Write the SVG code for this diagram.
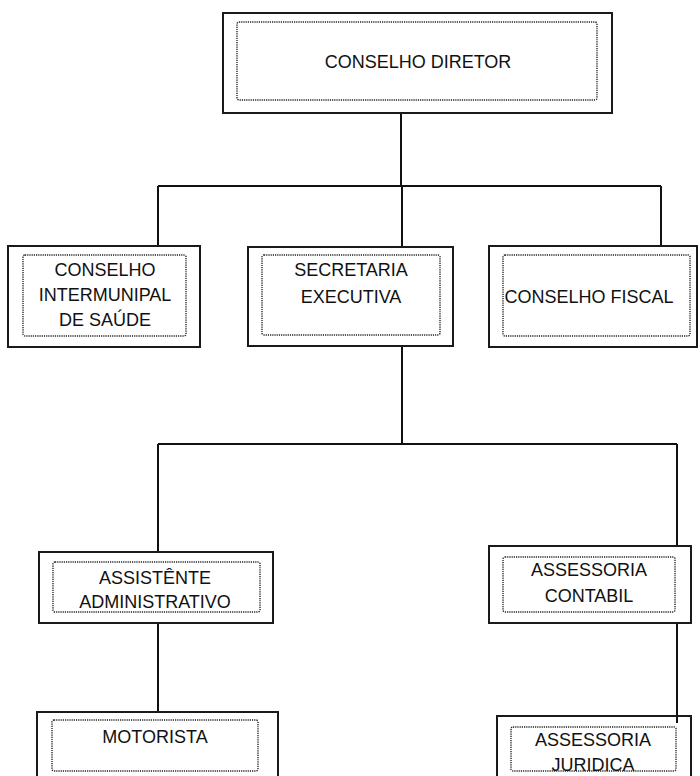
<svg xmlns="http://www.w3.org/2000/svg" width="700" height="776" viewBox="0 0 700 776">
<style>
.outer{fill:#fff;stroke:#1a1a1a;stroke-width:2}
.inner{fill:none;stroke:#222;stroke-width:1.4;stroke-dasharray:1.2 1}
.t{font-family:"Liberation Sans",Arial,sans-serif;font-size:18px;fill:#111;text-anchor:middle}
.c{fill:none;stroke:#111;stroke-width:2}
</style>
<rect width="700" height="776" fill="#fff"/>
<g id="connectors">
<path class="c" d="M401 113V186M158 186H661M158 186V246M402 186V247M661 186V246"/>
<path class="c" d="M402 346V444M158 444H677M158 444V552M677 444V546M677 623V723M158 623V712"/>
</g>
<g id="conselho-diretor">
<rect class="outer" x="223" y="13" width="389" height="100"/>
<rect class="inner" x="237" y="22" width="360" height="78" rx="2"/>
<text class="t" x="418" y="68">CONSELHO DIRETOR</text>
</g>
<g id="conselho-intermunipal">
<rect class="outer" x="8" y="246" width="192" height="101"/>
<rect class="inner" x="23" y="255" width="163" height="81" rx="2"/>
<text class="t" x="105" y="276">CONSELHO</text>
<text class="t" x="105" y="301">INTERMUNIPAL</text>
<text class="t" x="105" y="326">DE SAÚDE</text>
</g>
<g id="secretaria-executiva">
<rect class="outer" x="248" y="247" width="205" height="99"/>
<rect class="inner" x="262" y="255" width="178" height="80" rx="2"/>
<text class="t" x="351" y="276">SECRETARIA</text>
<text class="t" x="351" y="303">EXECUTIVA</text>
</g>
<g id="conselho-fiscal">
<rect class="outer" x="489" y="246" width="208" height="101"/>
<rect class="inner" x="503" y="255" width="187" height="81" rx="2"/>
<text class="t" x="589" y="303">CONSELHO FISCAL</text>
</g>
<g id="assistente-administrativo">
<rect class="outer" x="39" y="552" width="234" height="71"/>
<rect class="inner" x="53" y="562" width="207" height="50" rx="2"/>
<text class="t" x="155" y="584">ASSISTÊNTE</text>
<text class="t" x="155" y="608">ADMINISTRATIVO</text>
</g>
<g id="assessoria-contabil">
<rect class="outer" x="489" y="546" width="202" height="77"/>
<rect class="inner" x="503" y="557" width="172" height="55" rx="2"/>
<text class="t" x="589" y="576">ASSESSORIA</text>
<text class="t" x="589" y="602">CONTABIL</text>
</g>
<g id="motorista">
<rect class="outer" x="37" y="712" width="241" height="80"/>
<rect class="inner" x="52" y="720" width="206" height="51" rx="2"/>
<text class="t" x="155" y="743">MOTORISTA</text>
</g>
<g id="assessoria-juridica">
<rect class="outer" x="497" y="716" width="194" height="80"/>
<text class="t" x="593" y="746">ASSESSORIA</text>
<text class="t" x="593" y="771">JURIDICA</text>
<rect class="inner" x="511" y="727" width="165" height="44" rx="2"/>
<path class="c" d="M677 716V723"/>
</g>
</svg>
